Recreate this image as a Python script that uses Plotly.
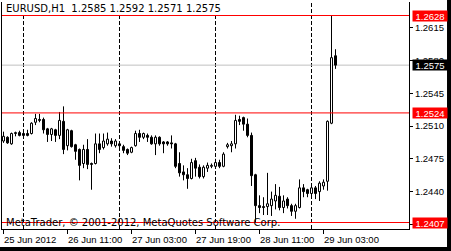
import plotly.graph_objects as go

OPEN = [1.2494,1.2498,1.2491,1.2502,1.2503,1.2502,1.2502,1.2502,1.2514,1.2517,
        1.2517,1.2507,1.2501,1.2506,1.2500,1.2515,1.2489,1.2505,1.2490,1.2485,
        1.2470,1.2485,1.2470,1.2470,1.2491,1.2487,1.2491,1.2494,1.2489,1.2491,
        1.2488,1.2485,1.2482,1.2489,1.2502,1.2498,1.2500,1.2498,1.2491,1.2498,
        1.2493,1.2493,1.2492,1.2491,1.2470,1.2461,1.2458,1.2454,1.2473,1.2466,
        1.2456,1.2465,1.2467,1.2467,1.2471,1.2467,1.2488,1.2489,1.2491,1.2517,
        1.2519,1.2512,1.2500,1.2458,1.2425,1.2424,1.2424,1.2425,1.2430,1.2435,
        1.2423,1.2432,1.2425,1.2419,1.2423,1.2444,1.2442,1.2438,1.2444,1.2440,
        1.2446,1.2451,1.2513,1.2585]
HIGH = [1.2504,1.2499,1.2503,1.2504,1.2505,1.2504,1.2506,1.2514,1.2523,1.2523,
        1.2519,1.2508,1.2508,1.2507,1.2525,1.2531,1.2507,1.2506,1.2491,1.2486,
        1.2490,1.2496,1.2471,1.2502,1.2502,1.2502,1.2503,1.2497,1.2496,1.2493,
        1.2490,1.2486,1.2488,1.2505,1.2506,1.2503,1.2502,1.2500,1.2500,1.2499,
        1.2494,1.2494,1.2500,1.2492,1.2482,1.2468,1.2465,1.2475,1.2476,1.2469,
        1.2468,1.2471,1.2470,1.2475,1.2474,1.2482,1.2492,1.2494,1.2522,1.2521,
        1.2520,1.2518,1.2503,1.2459,1.2436,1.2434,1.2460,1.2440,1.2448,1.2445,
        1.2436,1.2434,1.2427,1.2427,1.2453,1.2448,1.2443,1.2449,1.2446,1.2451,
        1.2453,1.2516,1.2628,1.2592]
LOW = [1.2492,1.2491,1.2490,1.2499,1.2499,1.2499,1.2499,1.2501,1.2511,1.2514,
       1.2502,1.2493,1.2494,1.2493,1.2496,1.2480,1.2484,1.2487,1.2474,1.2452,
       1.2465,1.2464,1.2442,1.2469,1.2481,1.2485,1.2489,1.2488,1.2487,1.2487,
       1.2481,1.2479,1.2481,1.2488,1.2493,1.2496,1.2493,1.2490,1.2479,1.2489,
       1.2481,1.2489,1.2486,1.2465,1.2456,1.2452,1.2443,1.2453,1.2456,1.2454,
       1.2454,1.2461,1.2465,1.2465,1.2465,1.2466,1.2486,1.2482,1.2486,1.2511,
       1.2505,1.2498,1.2446,1.2407,1.2417,1.2415,1.2415,1.2414,1.2421,1.2420,
       1.2417,1.2422,1.2414,1.2411,1.2422,1.2434,1.2434,1.2434,1.2432,1.2430,
       1.2442,1.2441,1.2512,1.2571]
CLOSE = [1.2499,1.2492,1.2502,1.2503,1.2500,1.2500,1.2500,1.2513,1.2518,1.2516,
         1.2506,1.2501,1.2507,1.2500,1.2516,1.2485,1.2506,1.2488,1.2483,1.2468,
         1.2485,1.2469,1.2469,1.2491,1.2485,1.2494,1.2496,1.2491,1.2494,1.2489,
         1.2484,1.2481,1.2487,1.2502,1.2498,1.2502,1.2498,1.2491,1.2498,1.2491,
         1.2491,1.2491,1.2491,1.2467,1.2460,1.2458,1.2454,1.2471,1.2465,1.2456,
         1.2466,1.2468,1.2468,1.2471,1.2467,1.2480,1.2490,1.2491,1.2516,1.2515,
         1.2512,1.2500,1.2457,1.2425,1.2423,1.2423,1.2427,1.2432,1.2436,1.2423,
         1.2430,1.2425,1.2419,1.2425,1.2444,1.2440,1.2438,1.2444,1.2438,1.2449,
         1.2450,1.2515,1.2583,1.2575]

TIME_TICK_IDX = [0, 16, 32, 48, 64, 80]
TIME_TICK_LABELS = ["25 Jun 2012", "26 Jun 11:00", "27 Jun 03:00",
                    "27 Jun 19:00", "28 Jun 11:00", "29 Jun 03:00"]
DAY_SEPARATORS = [5, 29, 53, 77]
PRICE_TICKS = [1.2405, 1.2440, 1.2475, 1.2510, 1.2545, 1.2580, 1.2615]
RED_LEVELS = [1.2628, 1.2524, 1.2407]
BID = 1.2575
HEADER = "EURUSD,H1&nbsp; 1.2585 1.2592 1.2571 1.2575"
FOOTER = "MetaTrader, © 2001-2012, MetaQuotes Software Corp."

FONT = "Liberation Sans"
FS = 9.5
WFONT = "DejaVu Sans"
WFS = 10

n = len(OPEN)
idx = list(range(n))

wx, wy = [], []
for i in idx:
    top = max(OPEN[i], CLOSE[i])
    bot = min(OPEN[i], CLOSE[i])
    if HIGH[i] > top:
        wx += [i, i, None]; wy += [HIGH[i], top, None]
    if LOW[i] < bot:
        wx += [i, i, None]; wy += [bot, LOW[i], None]

up = [i for i in idx if CLOSE[i] >= OPEN[i]]
dn = [i for i in idx if CLOSE[i] < OPEN[i]]

fig = go.Figure()
fig.add_trace(go.Scatter(x=wx, y=wy, mode="lines",
                         line=dict(color="black", width=1),
                         hoverinfo="skip", showlegend=False))
for group, fill in ((up, "white"), (dn, "black")):
    fig.add_trace(go.Bar(
        x=group,
        base=[min(OPEN[i], CLOSE[i]) for i in group],
        y=[abs(CLOSE[i] - OPEN[i]) for i in group],
        width=0.5,
        marker=dict(color=fill, line=dict(color="black", width=1)),
        hoverinfo="skip", showlegend=False))

shapes = []
for d in DAY_SEPARATORS:
    shapes.append(dict(type="line", xref="x", yref="paper", x0=d, x1=d, y0=0, y1=1,
                       line=dict(color="black", width=1, dash="4px,2px"), layer="below"))
shapes.append(dict(type="line", xref="paper", yref="y", x0=0, x1=1, y0=BID, y1=BID,
                   line=dict(color="#C0C0C0", width=1), layer="below"))
for lv in RED_LEVELS:
    shapes.append(dict(type="line", xref="paper", yref="y", x0=0, x1=1, y0=lv, y1=lv,
                       line=dict(color="#FF0000", width=1), layer="above"))
shapes.append(dict(type="rect", xref="paper", yref="paper", x0=1.0934, x1=1.2,
                   y0=-0.2, y1=1.2, fillcolor="black", line=dict(width=0)))
shapes.append(dict(type="rect", xref="paper", yref="paper", x0=-0.1, x1=1.2,
                   y0=-0.2, y1=-0.0793, fillcolor="black", line=dict(width=0)))

ann = []
ann.append(dict(text=HEADER, xref="paper", yref="paper", x=0, y=1, xanchor="left",
                yanchor="top", xshift=3, yshift=0, showarrow=False, bgcolor="white",
                borderpad=0, font=dict(family=WFONT, size=WFS, color="black")))
ann.append(dict(text=FOOTER, xref="paper", yref="paper", x=0, y=0, xanchor="left",
                yanchor="bottom", xshift=2, yshift=-1, showarrow=False,
                font=dict(family=WFONT, size=WFS, color="black")))
for k, lab in zip(TIME_TICK_IDX, TIME_TICK_LABELS):
    ann.append(dict(text=lab, xref="x", yref="paper", x=k, y=0, xanchor="left",
                    yanchor="top", xshift=-2, yshift=-3, showarrow=False,
                    font=dict(family=FONT, size=FS, color="black")))
for lv in RED_LEVELS:
    ann.append(dict(text=f"{lv:.4f}", xref="paper", yref="y", x=1, y=lv, xanchor="left",
                    yanchor="middle", xshift=3, showarrow=False, bgcolor="#FF0000",
                    width=34, height=10, borderpad=0,
                    font=dict(family=FONT, size=FS, color="white")))
ann.append(dict(text=f"{BID:.4f}", xref="paper", yref="y", x=1, y=BID, xanchor="left",
                yanchor="middle", xshift=3, showarrow=False, bgcolor="black",
                width=34, height=10, borderpad=0,
                font=dict(family=FONT, size=FS, color="white")))

fig.update_layout(
    width=451, height=251,
    margin=dict(l=2, r=42, t=2, b=22),
    paper_bgcolor="white", plot_bgcolor="white",
    barmode="overlay", showlegend=False,
    shapes=shapes, annotations=ann,
    xaxis=dict(range=[-0.375, 101.375], showgrid=False, zeroline=False,
               showline=True, linecolor="black", linewidth=1, mirror=False,
               tickmode="array", tickvals=TIME_TICK_IDX, ticks="outside",
               ticklen=4, tickcolor="black", showticklabels=False, fixedrange=True),
    yaxis=dict(range=[1.240007, 1.264241], side="right", showgrid=False,
               zeroline=False, showline=True, linecolor="black", linewidth=1,
               mirror=True, tickmode="array", tickvals=PRICE_TICKS,
               ticktext=[f"{v:.4f}" for v in PRICE_TICKS], ticks="outside",
               ticklen=3, tickcolor="black",
               tickfont=dict(family=FONT, size=FS, color="black"), fixedrange=True),
)

fig.write_html("out.html")
